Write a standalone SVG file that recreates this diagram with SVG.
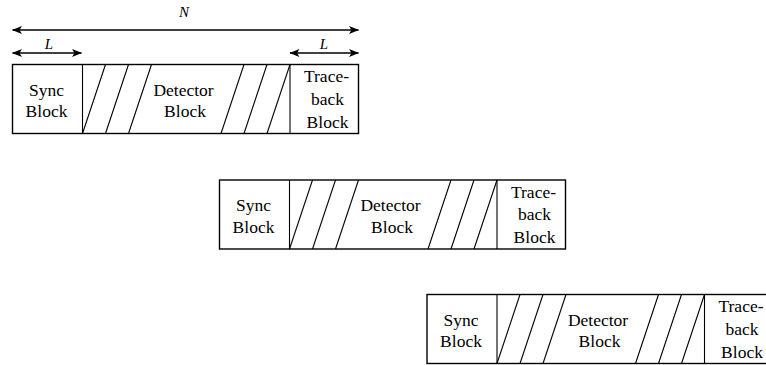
<svg xmlns="http://www.w3.org/2000/svg" width="766" height="365" viewBox="0 0 766 365">
<style>
.box{fill:#fff;stroke:#000;stroke-width:1.4}
.ln{stroke:#000;stroke-width:1.1;fill:none}
text{fill:#000;text-anchor:middle}
.t{font-size:17.5px}
.lab{font-size:15px;font-style:italic}
.arr{stroke:#000;stroke-width:1.5;fill:none;marker-start:url(#ah);marker-end:url(#ah)}
</style>
<defs>
<marker id="ah" viewBox="0 0 10 8" refX="9.5" refY="4" markerWidth="10" markerHeight="8" markerUnits="userSpaceOnUse" orient="auto-start-reverse">
<path d="M0,0 L10,4 L0,8 L2.5,4 z" fill="#000"/>
</marker>
</defs>
<g id="connectors" font-family="'Liberation Serif', serif">
<line class="arr" x1="12.5" y1="30" x2="358.5" y2="30"/>
<line class="arr" x1="12.5" y1="53" x2="81.5" y2="53"/>
<line class="arr" x1="290" y1="53" x2="358.5" y2="53"/>
<text class="lab" x="184" y="17">N</text>
<text class="lab" x="49" y="49">L</text>
<text class="lab" x="324" y="49">L</text>
</g>
<g id="frame1" transform="translate(12.5,64.5)" font-family="'Liberation Serif', serif">
<rect class="box" x="0" y="0" width="346" height="69"/>
<line class="ln" x1="70" y1="0" x2="70" y2="69"/>
<line class="ln" x1="277.5" y1="0" x2="277.5" y2="69"/>
<line class="ln" x1="70" y1="69" x2="93" y2="0"/>
<line class="ln" x1="93" y1="69" x2="116" y2="0"/>
<line class="ln" x1="116" y1="69" x2="139" y2="0"/>
<line class="ln" x1="208.5" y1="69" x2="231.5" y2="0"/>
<line class="ln" x1="231.5" y1="69" x2="254.5" y2="0"/>
<line class="ln" x1="254.5" y1="69" x2="277.5" y2="0"/>
<text class="t" x="34" y="31">Sync</text>
<text class="t" x="34" y="52.5">Block</text>
<text class="t" x="171" y="31">Detector</text>
<text class="t" x="172.5" y="52.5">Block</text>
<text class="t" x="314" y="17.5">Trace-</text>
<text class="t" x="315" y="40">back</text>
<text class="t" x="315" y="63">Block</text>
</g>
<g id="frame2" transform="translate(219.5,180)" font-family="'Liberation Serif', serif">
<rect class="box" x="0" y="0" width="346" height="69"/>
<line class="ln" x1="70" y1="0" x2="70" y2="69"/>
<line class="ln" x1="277.5" y1="0" x2="277.5" y2="69"/>
<line class="ln" x1="70" y1="69" x2="93" y2="0"/>
<line class="ln" x1="93" y1="69" x2="116" y2="0"/>
<line class="ln" x1="116" y1="69" x2="139" y2="0"/>
<line class="ln" x1="208.5" y1="69" x2="231.5" y2="0"/>
<line class="ln" x1="231.5" y1="69" x2="254.5" y2="0"/>
<line class="ln" x1="254.5" y1="69" x2="277.5" y2="0"/>
<text class="t" x="34" y="31">Sync</text>
<text class="t" x="34" y="52.5">Block</text>
<text class="t" x="171" y="31">Detector</text>
<text class="t" x="172.5" y="52.5">Block</text>
<text class="t" x="314" y="17.5">Trace-</text>
<text class="t" x="315" y="40">back</text>
<text class="t" x="315" y="63">Block</text>
</g>
<g id="frame3" transform="translate(427,294.5)" font-family="'Liberation Serif', serif">
<rect class="box" x="0" y="0" width="346" height="69"/>
<line class="ln" x1="70" y1="0" x2="70" y2="69"/>
<line class="ln" x1="277.5" y1="0" x2="277.5" y2="69"/>
<line class="ln" x1="70" y1="69" x2="93" y2="0"/>
<line class="ln" x1="93" y1="69" x2="116" y2="0"/>
<line class="ln" x1="116" y1="69" x2="139" y2="0"/>
<line class="ln" x1="208.5" y1="69" x2="231.5" y2="0"/>
<line class="ln" x1="231.5" y1="69" x2="254.5" y2="0"/>
<line class="ln" x1="254.5" y1="69" x2="277.5" y2="0"/>
<text class="t" x="34" y="31">Sync</text>
<text class="t" x="34" y="52.5">Block</text>
<text class="t" x="171" y="31">Detector</text>
<text class="t" x="172.5" y="52.5">Block</text>
<text class="t" x="314" y="17.5">Trace-</text>
<text class="t" x="315" y="40">back</text>
<text class="t" x="315" y="63">Block</text>
</g>
</svg>
